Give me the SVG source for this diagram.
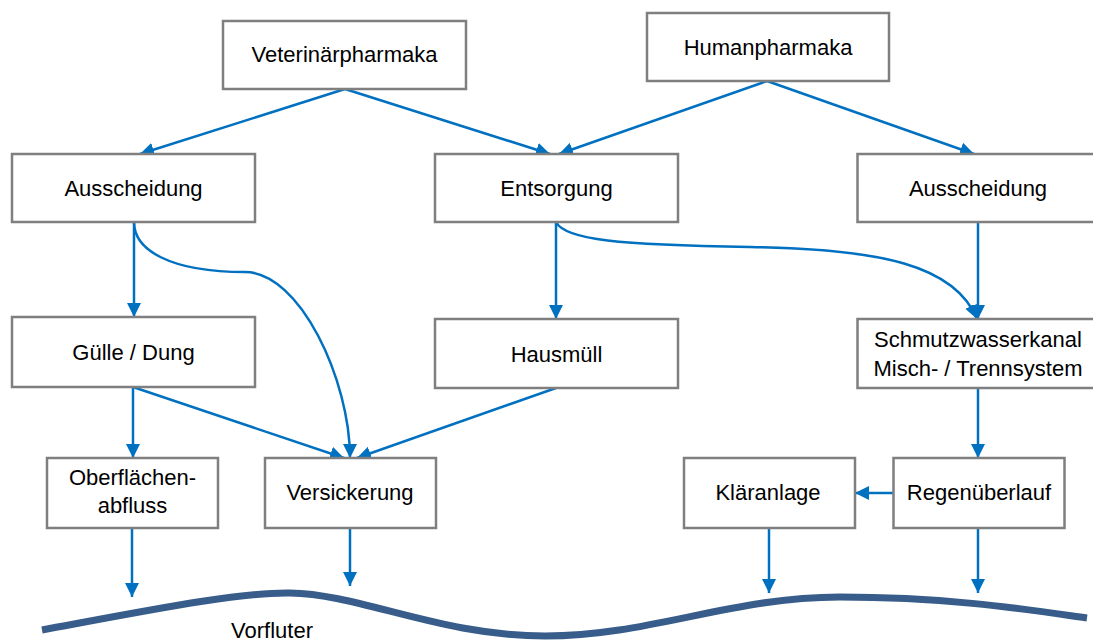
<svg xmlns="http://www.w3.org/2000/svg" width="1093" height="643" viewBox="0 0 1093 643">
<defs>
<marker id="ah" markerUnits="userSpaceOnUse" markerWidth="15" markerHeight="15" viewBox="0 0 15 15" refX="14" refY="7.5" orient="auto">
<path d="M0,0.5 L14,7.5 L0,14.5 z" fill="#0070c0"/>
</marker>
<style>
.box{fill:#fff;stroke:#7f7f7f;stroke-width:2.5}
.lbl{font-family:"Liberation Sans",Arial,sans-serif;font-size:22px;fill:#000;text-anchor:middle}
.c{fill:none;stroke:#0070c0;stroke-width:2.5;marker-end:url(#ah)}
</style>
</defs>
<rect width="1093" height="643" fill="#fff"/>
<g id="connectors">
<path class="c" d="M345,89 L140,154"/>
<path class="c" d="M345,89 L550,154"/>
<path class="c" d="M767,81 L559,154"/>
<path class="c" d="M767,81 L974,154"/>
<path class="c" d="M134,222 L134,317"/>
<path class="c" d="M134,222 C134,250 170,272 245,272 C300,272 350,380 350,458"/>
<path class="c" d="M133,387 L133,458"/>
<path class="c" d="M133,387 L344,458"/>
<path class="c" d="M556,388 L357,458"/>
<path class="c" d="M556,222 L556,319"/>
<path class="c" d="M556,222 C565,240 620,245 750,247 C880,249 955,265 977,319"/>
<path class="c" d="M978,222 L978,319"/>
<path class="c" d="M978,388 L978,458"/>
<path class="c" d="M893,493 L855,493"/>
<path class="c" d="M769,528 L769,593"/>
<path class="c" d="M978,528 L978,593"/>
<path class="c" d="M132,528 L132,597"/>
<path class="c" d="M350,528 L350,586"/>
</g>
<g id="vorfluter">
<path d="M42,630 C150,610 240,592 290,593 C360,594 440,636 545,636 C650,636 730,597 840,597 C950,597 1030,610 1087,618" fill="none" stroke="#385d8a" stroke-width="7"/>
<text class="lbl" x="272" y="638">Vorfluter</text>
</g>
<g id="n-veterinaer"><rect class="box" x="223" y="21" width="243" height="68"/><text class="lbl" x="344.5" y="62">Veterinärpharmaka</text></g>
<g id="n-human"><rect class="box" x="647" y="13" width="242" height="68"/><text class="lbl" x="768" y="55">Humanpharmaka</text></g>
<g id="n-ausscheidung-l"><rect class="box" x="12" y="154" width="243" height="68"/><text class="lbl" x="133.5" y="196">Ausscheidung</text></g>
<g id="n-entsorgung"><rect class="box" x="435" y="154" width="243" height="68"/><text class="lbl" x="556.5" y="196">Entsorgung</text></g>
<g id="n-ausscheidung-r"><rect class="box" x="857.5" y="154" width="243" height="68"/><text class="lbl" x="978" y="196">Ausscheidung</text></g>
<g id="n-guelle"><rect class="box" x="12" y="317" width="243" height="70"/><text class="lbl" x="133.5" y="360">Gülle / Dung</text></g>
<g id="n-hausmuell"><rect class="box" x="435" y="319" width="243" height="69"/><text class="lbl" x="556.5" y="362">Hausmüll</text></g>
<g id="n-schmutz"><rect class="box" x="857.5" y="319" width="243" height="69"/><text class="lbl" x="978" y="347">Schmutzwasserkanal</text><text class="lbl" x="978" y="376">Misch- / Trennsystem</text></g>
<g id="n-oberflaechen"><rect class="box" x="47" y="458" width="171" height="70"/><text class="lbl" x="132.5" y="485">Oberflächen-</text><text class="lbl" x="132.5" y="513">abfluss</text></g>
<g id="n-versickerung"><rect class="box" x="265" y="458" width="171" height="70"/><text class="lbl" x="350" y="500">Versickerung</text></g>
<g id="n-klaeranlage"><rect class="box" x="684" y="458" width="171" height="70"/><text class="lbl" x="768" y="500">Kläranlage</text></g>
<g id="n-regen"><rect class="box" x="893.5" y="458" width="171" height="70"/><text class="lbl" x="979" y="500">Regenüberlauf</text></g>
</svg>
